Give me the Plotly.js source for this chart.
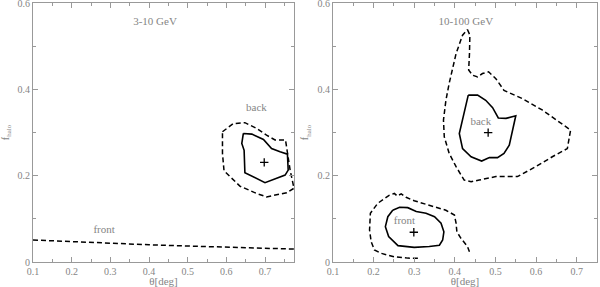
<!DOCTYPE html>
<html>
<head>
<meta charset="utf-8">
<script src="https://cdn.plot.ly/plotly-3.0.1.min.js"></script>
<style>html,body{margin:0;padding:0;background:#fff;}#chart{width:600px;height:287px;}</style>
</head>
<body>
<div id="chart"></div>
<script>
// ---- Left panel: 3-10 GeV ----
const leftFrontX = [0.10, 0.20, 0.30, 0.40, 0.50, 0.60, 0.70, 0.775];
const leftFrontY = [0.051, 0.047, 0.043, 0.040, 0.037, 0.034, 0.032, 0.030];

const leftBackSolidX = [0.644, 0.666, 0.696, 0.717, 0.739, 0.758, 0.760, 0.752, 0.700, 0.687, 0.648, 0.646, 0.640, 0.644];
const leftBackSolidY = [0.298, 0.2965, 0.284, 0.263, 0.2555, 0.250, 0.213, 0.2015, 0.184, 0.190, 0.207, 0.259, 0.275, 0.298];

const leftBackDashX = [0.590, 0.618, 0.648, 0.678, 0.704, 0.726, 0.753, 0.758, 0.765, 0.775, 0.756, 0.704, 0.678, 0.635, 0.594, 0.590, 0.590];
const leftBackDashY = [0.302, 0.321, 0.323, 0.310, 0.294, 0.283, 0.283, 0.2555, 0.213, 0.171, 0.1605, 0.151, 0.159, 0.176, 0.2115, 0.252, 0.302];

const leftBestX = [0.698];
const leftBestY = [0.231];

const leftLabels = ["3-10 GeV", "back", "front"];
const leftLabelX = [0.4155, 0.678, 0.284];
const leftLabelY = [0.557, 0.356, 0.074];

// ---- Right panel: 10-100 GeV ----
const rightBackSolidX = [0.433, 0.456, 0.476, 0.493, 0.507, 0.526, 0.550, 0.542, 0.534, 0.521, 0.505, 0.485, 0.466, 0.440, 0.419, 0.411, 0.419, 0.433];
const rightBackSolidY = [0.387, 0.387, 0.375, 0.358, 0.334, 0.333, 0.339, 0.306, 0.271, 0.252, 0.242, 0.242, 0.234, 0.244, 0.263, 0.298, 0.329, 0.387];

const rightBackDashX = [0.431, 0.437, 0.436, 0.434, 0.444, 0.456, 0.468, 0.483, 0.501, 0.521, 0.566, 0.616, 0.685, 0.677, 0.640, 0.599, 0.554, 0.501, 0.460, 0.440, 0.423, 0.403, 0.386, 0.374, 0.372, 0.378, 0.386, 0.403, 0.419, 0.431];
const rightBackDashY = [0.539, 0.526, 0.483, 0.445, 0.433, 0.429, 0.437, 0.441, 0.425, 0.398, 0.379, 0.352, 0.306, 0.263, 0.244, 0.221, 0.198, 0.198, 0.190, 0.186, 0.190, 0.221, 0.252, 0.290, 0.329, 0.375, 0.414, 0.483, 0.526, 0.539];

const rightFrontSolidX = [0.247, 0.264, 0.284, 0.305, 0.329, 0.350, 0.366, 0.373, 0.370, 0.362, 0.337, 0.300, 0.260, 0.247, 0.237, 0.229, 0.235, 0.247];
const rightFrontSolidY = [0.120, 0.127, 0.126, 0.117, 0.113, 0.105, 0.090, 0.070, 0.051, 0.039, 0.036, 0.034, 0.038, 0.051, 0.059, 0.082, 0.105, 0.120];

const rightFrontDashX = [0.309, 0.284, 0.251, 0.219, 0.202, 0.194, 0.190, 0.192, 0.210, 0.227, 0.239, 0.251, 0.258, 0.268, 0.280, 0.300, 0.329, 0.354, 0.378, 0.399, 0.403, 0.405, 0.415, 0.431, 0.436];
const rightFrontDashY = [0.0085, 0.009, 0.012, 0.020, 0.028, 0.047, 0.074, 0.113, 0.136, 0.147, 0.155, 0.159, 0.153, 0.158, 0.150, 0.142, 0.134, 0.128, 0.120, 0.109, 0.090, 0.070, 0.055, 0.036, 0.024];

const rightBestX = [0.482, 0.299];
const rightBestY = [0.300, 0.069];

const rightLabels = ["10-100 GeV", "back", "front"];
const rightLabelX = [0.427, 0.464, 0.276];
const rightLabelY = [0.557, 0.325, 0.095];

const yTickVals = [0, 0.2, 0.4, 0.6];
const yTickText = ["0", "0.2", "0.4", "0.6"];

// ---- Styles ----
const solid = {color: '#000', width: 1.6};
const dashed = {color: '#000', width: 1.5, dash: '5px,3px'};
const grey = '#858585';
const serif = 'Liberation Serif, Times New Roman, serif';
const plusMarker = {symbol: 'cross-thin', size: 6, color: '#000', line: {color: '#000', width: 1.3}};

function line(x, y, style, xa, ya) {
  return {x: x, y: y, type: 'scatter', mode: 'lines', line: style, xaxis: xa, yaxis: ya, hoverinfo: 'skip', showlegend: false};
}
function pts(x, y, xa, ya) {
  return {x: x, y: y, type: 'scatter', mode: 'markers', marker: plusMarker, xaxis: xa, yaxis: ya, showlegend: false, cliponaxis: false};
}
function labels(t, x, y, xa, ya) {
  return {x: x, y: y, text: t, type: 'scatter', mode: 'text', textposition: 'middle center',
          textfont: {family: serif, size: 11, color: grey}, xaxis: xa, yaxis: ya, showlegend: false};
}

const data = [
  line(leftFrontX, leftFrontY, dashed, 'x', 'y'),
  line(leftBackDashX, leftBackDashY, dashed, 'x', 'y'),
  line(leftBackSolidX, leftBackSolidY, solid, 'x', 'y'),
  pts(leftBestX, leftBestY, 'x', 'y'),
  labels(leftLabels, leftLabelX, leftLabelY, 'x', 'y'),
  line(rightBackDashX, rightBackDashY, dashed, 'x2', 'y2'),
  line(rightBackSolidX, rightBackSolidY, solid, 'x2', 'y2'),
  line(rightFrontDashX, rightFrontDashY, dashed, 'x2', 'y2'),
  line(rightFrontSolidX, rightFrontSolidY, solid, 'x2', 'y2'),
  pts(rightBestX, rightBestY, 'x2', 'y2'),
  labels(rightLabels, rightLabelX, rightLabelY, 'x2', 'y2')
];

function xaxis(domain, range, anchor) {
  return {
    domain: domain, range: range, anchor: anchor,
    tick0: 0.1, dtick: 0.1, ticks: 'inside', ticklen: 5, tickwidth: 1, tickcolor: '#999',
    minor: {dtick: 0.05, tick0: 0.1, ticks: 'inside', ticklen: 3, tickcolor: '#999', showgrid: false},
    mirror: 'ticks', showline: true, linecolor: '#999', linewidth: 1,
    showgrid: false, zeroline: false, tickformat: '.1f',
    tickfont: {family: serif, size: 10, color: grey},
    title: {text: 'θ[deg]', font: {family: serif, size: 11, color: grey}, standoff: 4}
  };
}
function yaxis(domain, anchor) {
  return {
    domain: domain, range: [0, 0.6005], anchor: anchor,
    tickmode: 'array', tickvals: yTickVals, ticktext: yTickText,
    ticklabeloverflow: 'allow',
    ticks: 'inside', ticklen: 5, tickwidth: 1, tickcolor: '#999',
    minor: {dtick: 0.1, tick0: 0, ticks: 'inside', ticklen: 3, tickcolor: '#999', showgrid: false},
    mirror: 'ticks', showline: true, linecolor: '#999', linewidth: 1,
    showgrid: false, zeroline: false,
    tickfont: {family: serif, size: 10, color: grey},
    title: {text: 'f<sub>halo</sub>', font: {family: serif, size: 10, color: grey}, standoff: 6}
  };
}

const layout = {
  width: 600, height: 287,
  margin: {l: 0, r: 0, t: 0, b: 0},
  paper_bgcolor: '#fff', plot_bgcolor: '#fff',
  showlegend: false,
  xaxis: xaxis([0.055, 0.49], [0.1, 0.775], 'y'),
  yaxis: yaxis([0.0871, 0.9895], 'x'),
  xaxis2: xaxis([0.555, 0.995], [0.1, 0.75], 'y2'),
  yaxis2: yaxis([0.0871, 0.9895], 'x2')
};

Plotly.newPlot('chart', data, layout, {displayModeBar: false, staticPlot: true});
</script>
</body>
</html>
